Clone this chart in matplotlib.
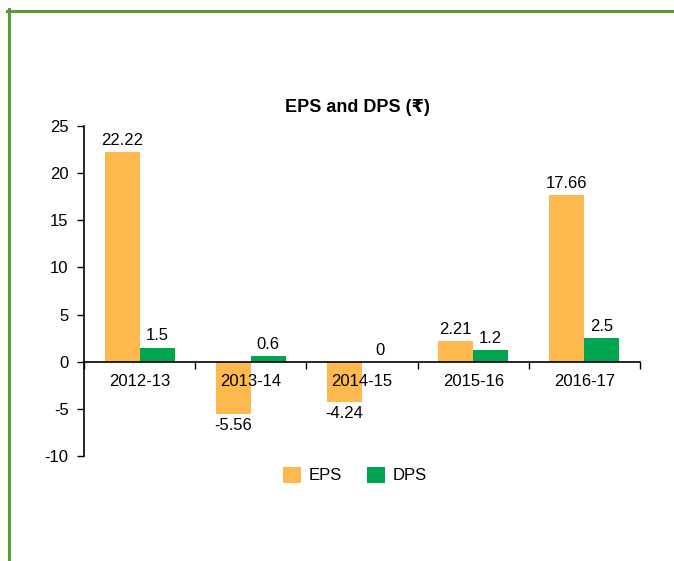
import numpy as np
import matplotlib
matplotlib.use("Agg")
import matplotlib.pyplot as plt
from matplotlib.lines import Line2D

plt.rcParams['font.family'] = ['Liberation Sans', 'DejaVu Sans']
plt.rcParams['axes.unicode_minus'] = False

# Data
years = ['2012-13', '2013-14', '2014-15', '2015-16', '2016-17']
eps = [22.22, -5.56, -4.24, 2.21, 17.66]
dps = [1.5, 0.6, 0, 1.2, 2.5]
eps_labels = ['22.22', '-5.56', '-4.24', '2.21', '17.66']
dps_labels = ['1.5', '0.6', '0', '1.2', '2.5']

eps_color = '#FDB94E'
dps_color = '#00A551'
border_color = '#5B9B35'

W, H = 674, 561
fig = plt.figure(figsize=(W / 100, H / 100), dpi=100)
ax = fig.add_axes([84 / W, 1 - 456 / H, (640 - 84) / W, (456 - 126) / H])

x = np.arange(len(years))
bw = 0.315
b1 = ax.bar(x - bw / 2, eps, bw, color=eps_color, label='EPS')
b2 = ax.bar(x + bw / 2, dps, bw, color=dps_color, label='DPS')

for bars, labels in [(b1, eps_labels), (b2, dps_labels)]:
    for rect, lab in zip(bars, labels):
        v = rect.get_height()
        xc = rect.get_x() + rect.get_width() / 2
        if v >= 0:
            ax.annotate(lab, (xc, v), xytext=(0, 3), textcoords='offset points',
                        ha='center', va='bottom', fontsize=12)
        else:
            ax.annotate(lab, (xc, v), xytext=(0, -3), textcoords='offset points',
                        ha='center', va='top', fontsize=12)

ax.set_xlim(-0.5, len(years) - 0.5)
ax.set_ylim(-10, 25)
ax.set_yticks(np.arange(-10, 26, 5))

# x axis sits at zero, boundary ticks between categories
ax.spines['bottom'].set_position(('data', 0))
ax.spines['top'].set_visible(False)
ax.spines['right'].set_visible(False)
ax.set_xticks(np.arange(-0.5, len(years), 1.0))
ax.set_xticklabels([])
ax.set_xticks(x, minor=True)
ax.set_xticklabels(years, minor=True)
ax.tick_params(axis='x', which='major', direction='out', length=5, width=1)
ax.tick_params(axis='x', which='minor', length=0, pad=9, labelsize=12)
ax.tick_params(axis='y', direction='out', length=5, width=1, pad=6, labelsize=12)
for s in ['left', 'bottom']:
    ax.spines[s].set_linewidth(1.2)

fig.text(357 / W, 1 - 108 / H, 'EPS and DPS (₹)', ha='center', va='center',
         fontsize=13, fontweight='bold')

fig.legend(handles=[b1, b2], labels=['EPS', 'DPS'], loc='center',
           bbox_to_anchor=(355 / W, 1 - 475 / H), ncol=2, frameon=False,
           fontsize=12, handlelength=1.08, handleheight=1.08,
           handletextpad=0.45, columnspacing=1.5)

# green frame on left and top
fig.add_artist(Line2D([8.5 / W, 8.5 / W], [0, 1 - 9 / H], color=border_color,
                      linewidth=2.2, transform=fig.transFigure))
fig.add_artist(Line2D([7 / W, 1], [1 - 10.5 / H, 1 - 10.5 / H], color=border_color,
                      linewidth=2.2, transform=fig.transFigure))

fig.savefig('out.png', dpi=100)
